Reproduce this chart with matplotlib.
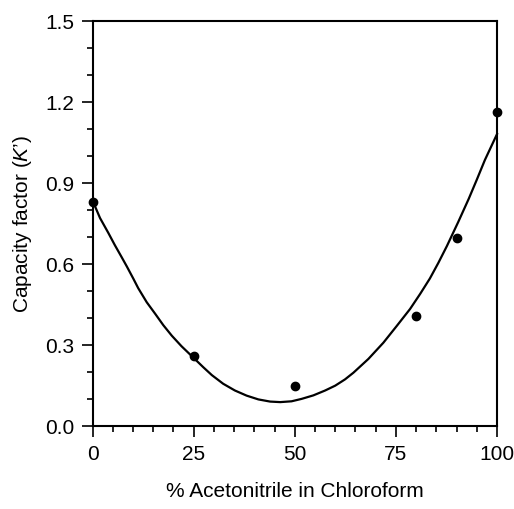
import matplotlib
matplotlib.use("Agg")
import matplotlib.pyplot as plt
from matplotlib.ticker import MultipleLocator

plt.rcParams['font.family'] = ['Liberation Sans', 'DejaVu Sans']
plt.rcParams['mathtext.fontset'] = 'custom'
plt.rcParams['mathtext.it'] = 'Liberation Sans:italic'
plt.rcParams['mathtext.rm'] = 'Liberation Sans'

# measured points
pct_acn = [0, 25, 50, 80, 90, 100]
k_prime = [0.83, 0.258, 0.147, 0.408, 0.696, 1.162]

# fitted curve
curve_x = [0, 1.85, 3.9, 5.5, 7.2, 8.5, 10.1, 11.3, 13.4, 15.5, 17.5, 19.6,
           22.0, 24.5, 27.4, 29.5, 32.3, 35.2, 38.1, 41, 43.9, 46.4, 49.2,
           51.7, 54.6, 57.5, 60, 62.4, 64.5, 68.2, 71.9, 75.2, 78.5, 81,
           83.4, 85.5, 87.6, 90.4, 93.0, 95.0, 97.0, 100]
curve_y = [0.835, 0.770, 0.715, 0.670, 0.625, 0.590, 0.545, 0.510, 0.458,
           0.415, 0.373, 0.334, 0.295, 0.259, 0.217, 0.188, 0.156, 0.131,
           0.112, 0.098, 0.090, 0.088, 0.091, 0.100, 0.113, 0.131, 0.149,
           0.172, 0.197, 0.248, 0.308, 0.370, 0.433, 0.489, 0.546, 0.604,
           0.666, 0.755, 0.841, 0.912, 0.985, 1.081]

x_ticks = [0, 25, 50, 75, 100]
y_ticks = [0.0, 0.3, 0.6, 0.9, 1.2, 1.5]

fig = plt.figure(figsize=(5.14, 5.10), dpi=100)
ax = fig.add_axes([0.18, 0.163, 0.787, 0.794])

ax.plot(curve_x, curve_y, color='black', lw=1.6, clip_on=False,
        solid_joinstyle='round')
ax.plot(pct_acn, k_prime, 'o', color='black', ms=6, clip_on=False, zorder=5)

ax.set_xlim(0, 100)
ax.set_ylim(0, 1.5)
ax.set_xticks(x_ticks)
ax.set_xticklabels([str(v) for v in x_ticks])
ax.set_yticks(y_ticks)
ax.set_yticklabels([f"{v:.1f}" for v in y_ticks])
ax.xaxis.set_minor_locator(MultipleLocator(5))
ax.yaxis.set_minor_locator(MultipleLocator(0.1))

ax.tick_params(which='major', direction='out', length=8, width=1.2,
               labelsize=15, pad=5)
ax.tick_params(which='minor', direction='out', length=4, width=1.2)
ax.tick_params(top=False, right=False, which='both')

for s in ax.spines.values():
    s.set_linewidth(1.5)

ax.set_xlabel("% Acetonitrile in Chloroform", fontsize=15, labelpad=13)
ax.set_ylabel("Capacity factor ($K$\u2019)", fontsize=15, labelpad=8)

fig.savefig("out.png", dpi=100)
